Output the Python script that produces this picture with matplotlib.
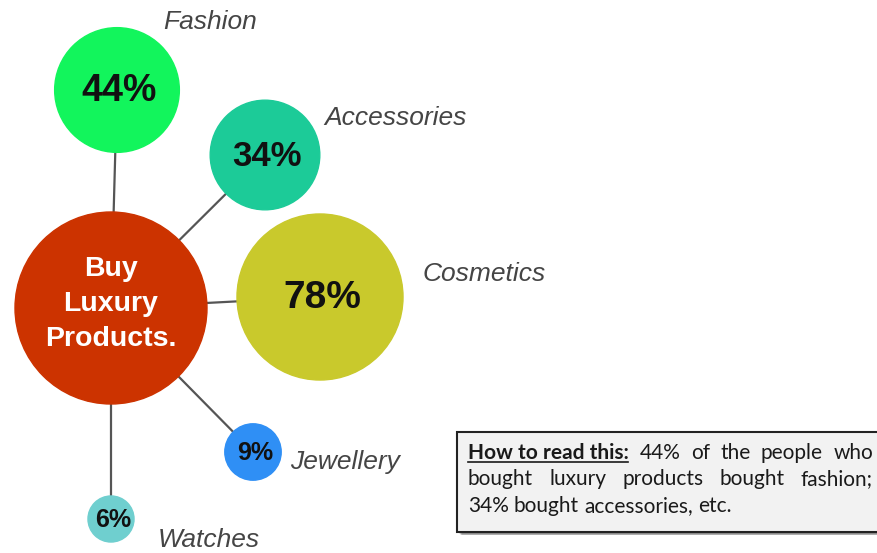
import numpy as np
import matplotlib.pyplot as plt
from matplotlib.patches import Circle, Rectangle

# Share of luxury buyers who also bought each category
categories = ["Fashion", "Accessories", "Cosmetics", "Jewellery", "Watches"]
shares = [44, 34, 78, 9, 6]
colors = ["#12f55c", "#1ccb98", "#c9c92c", "#2f8ff5", "#6fcfcf"]

# layout (pixel space, y down)
hub = (111, 308)
hub_r = 96
centers = [(117, 90), (265, 155), (320, 297), (253, 452), (111, 519)]
label_pos = [(210, 22), (395, 118), (484, 274), (345, 462), (209, 540)]
pct_size = [27, 25, 28, 18, 18]
scale = 9.4  # radius = scale * sqrt(share)

fig = plt.figure(figsize=(8.78, 5.53), dpi=100)
ax = fig.add_axes([0, 0, 1, 1])
ax.set_xlim(0, 878)
ax.set_ylim(553, 0)
ax.set_aspect("equal")
ax.axis("off")

# connector lines from the hub to each bubble
for (cx, cy) in centers:
    ax.plot([hub[0], cx], [hub[1], cy], color="#555555", lw=1.6, zorder=1)

ax.add_patch(Circle(hub, hub_r, color="#cc3300", zorder=2))
ax.text(hub[0], hub[1] - 4, "Buy\nLuxury\nProducts.", color="white",
        fontsize=20.5, fontweight="bold", family="Liberation Sans",
        ha="center", va="center", linespacing=1.45, zorder=3)

for name, v, c, (cx, cy), (lx, ly), fs in zip(categories, shares, colors,
                                               centers, label_pos, pct_size):
    r = scale * np.sqrt(v)
    ax.add_patch(Circle((cx, cy), r, color=c, zorder=2))
    ax.text(cx + 2, cy + 1, f"{v}%", fontsize=fs, fontweight="bold",
            family="Liberation Sans", color="#111111",
            ha="center", va="center", zorder=3)
    ax.text(lx, ly, name, fontsize=19, style="italic", color="#454545",
            family="Liberation Sans", ha="center", va="center", zorder=3)

# explanatory note box with a soft drop shadow
for k in range(6):
    ax.add_patch(Rectangle((459 + k * 0.6, 434 + k * 0.8), 430, 100 - k * 0.5,
                           color="#000000", alpha=0.09, lw=0, zorder=4))
ax.add_patch(Rectangle((457, 432), 430, 100, facecolor="#f2f2f2",
                       edgecolor="#222222", lw=1.5, zorder=5))

fig.canvas.draw()
rend = fig.canvas.get_renderer()
inv = ax.transData.inverted()


def width_of(t):
    bb = t.get_window_extent(renderer=rend)
    p0 = inv.transform((bb.x0, bb.y0))
    p1 = inv.transform((bb.x1, bb.y0))
    return p1[0] - p0[0]


note_font = dict(fontsize=15, family="Lato", color="#1a1a1a", zorder=6,
                 va="baseline")
left, right = 468, 873

lines = [
    [("How to read this:", True), ("44%", False), ("of", False), ("the", False),
     ("people", False), ("who", False)],
    [("bought", False), ("luxury", False), ("products", False),
     ("bought", False), ("fashion;", False)],
    [("34%", False), ("bought", False), ("accessories,", False),
     ("etc.", False)],
]
baselines = [459, 485, 512]

for i, (words, yb) in enumerate(zip(lines, baselines)):
    texts = []
    for w, bold in words:
        t = ax.text(0, yb, w, fontweight="bold" if bold else "normal",
                    **note_font)
        texts.append(t)
    fig.canvas.draw()
    widths = [width_of(t) for t in texts]
    if i < len(lines) - 1:
        gap = (right - left - sum(widths)) / (len(texts) - 1)
    else:
        gap = 5
    x = left
    for t, w in zip(texts, widths):
        t.set_x(x)
        if t.get_fontweight() in ("bold", 700):
            ax.plot([x, x + w - 1], [yb + 3, yb + 3], color="#1a1a1a",
                    lw=1.2, zorder=6)
        x += w + gap

fig.savefig("out.png", dpi=100)
